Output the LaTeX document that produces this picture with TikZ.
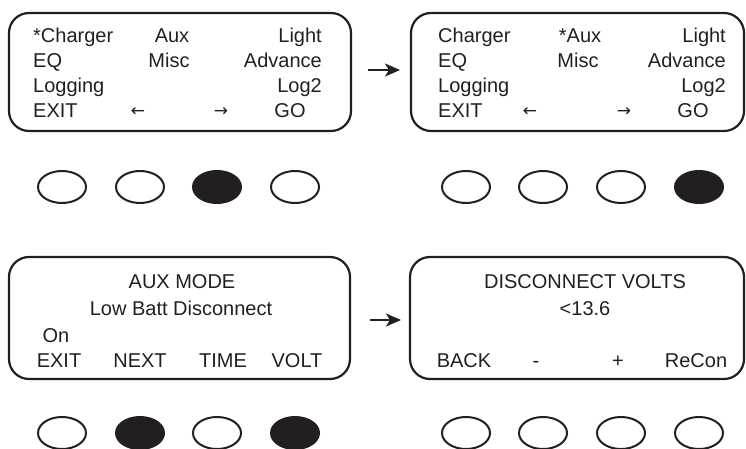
\documentclass[tikz,border=0pt]{standalone}
\usepackage{fontspec}
\setmainfont{Liberation Sans}
\newfontfamily\arrowfont{DejaVu Sans}
\usetikzlibrary{arrows.meta,calc,shapes.geometric}
\definecolor{ink}{HTML}{231F20}
\tikzset{
  screen/.style={draw=ink, line width=2.2pt, rounded corners=20pt, inner sep=0pt},
  lbl/.style={inner sep=0pt, text=ink, font=\fontsize{20}{22}\selectfont},
  arw/.style={inner sep=0pt, text=ink, font=\arrowfont\fontsize{17}{19}\selectfont},
  btn/.style={draw=ink, line width=2pt, ellipse, minimum width=48pt, minimum height=32pt, inner sep=0pt},
  pressed/.style={btn, fill=ink},
  conn/.style={draw=ink, line width=2.2pt, -{Stealth[length=15pt,width=13pt,inset=4pt]}}
}
\begin{document}
\begin{tikzpicture}[x=1pt,y=-1pt]
\useasboundingbox (0,0) rectangle (746,449);
% screens
\node[screen, minimum width=342pt, minimum height=118pt] (s1) at (180,72) {};
\node[screen, minimum width=333pt, minimum height=118pt] (s2) at (577.5,72) {};
\node[screen, minimum width=341pt, minimum height=122pt] (s3) at (179.5,318) {};
\node[screen, minimum width=334pt, minimum height=122pt] (s4) at (577,318) {};
% arrows between screens
\coordinate (a1s) at (368,70);
\coordinate (a1e) at (400,70);
\coordinate (a2s) at (370,320);
\coordinate (a2e) at (401,320);
\draw[conn] (a1s) -- (a1e);
\draw[conn] (a2s) -- (a2e);
% screen 1 text
\node[lbl, anchor=base west] (t1a) at (33,43) {*Charger};
\node[lbl, anchor=base] (t1b) at (172,43) {Aux};
\node[lbl, anchor=base east] (t1c) at (322,43) {Light};
\node[lbl, anchor=base west] (t1d) at (33,68) {EQ};
\node[lbl, anchor=base] (t1e) at (169,68) {Misc};
\node[lbl, anchor=base east] (t1f) at (322,68) {Advance};
\node[lbl, anchor=base west] (t1g) at (33,93) {Logging};
\node[lbl, anchor=base east] (t1h) at (322,93) {Log2};
\node[lbl, anchor=base west] (t1i) at (33,118) {EXIT};
\node[arw, anchor=base] (t1j) at (138,117) {←};
\node[arw, anchor=base] (t1k) at (221,117) {→};
\node[lbl, anchor=base] (t1l) at (290,118) {GO};
% screen 2 text
\node[lbl, anchor=base west] (t2a) at (438,43) {Charger};
\node[lbl, anchor=base] (t2b) at (580,43) {*Aux};
\node[lbl, anchor=base east] (t2c) at (726,43) {Light};
\node[lbl, anchor=base west] (t2d) at (438,68) {EQ};
\node[lbl, anchor=base] (t2e) at (578,68) {Misc};
\node[lbl, anchor=base east] (t2f) at (726,68) {Advance};
\node[lbl, anchor=base west] (t2g) at (438,93) {Logging};
\node[lbl, anchor=base east] (t2h) at (726,93) {Log2};
\node[lbl, anchor=base west] (t2i) at (438,118) {EXIT};
\node[arw, anchor=base] (t2j) at (530,117) {←};
\node[arw, anchor=base] (t2k) at (624,117) {→};
\node[lbl, anchor=base] (t2l) at (693,118) {GO};
% screen 3 text
\node[lbl, anchor=base] (t3a) at (182,288) {AUX MODE};
\node[lbl, anchor=base] (t3b) at (181,315) {Low Batt Disconnect};
\node[lbl, anchor=base] (t3c) at (56,342) {On};
\node[lbl, anchor=base] (t3d) at (59,367) {EXIT};
\node[lbl, anchor=base] (t3e) at (140,367) {NEXT};
\node[lbl, anchor=base] (t3f) at (223,367) {TIME};
\node[lbl, anchor=base] (t3g) at (297,367) {VOLT};
% screen 4 text
\node[lbl, anchor=base] (t4a) at (585,288) {DISCONNECT VOLTS};
\node[lbl, anchor=base] (t4b) at (585,315) {<13.6};
\node[lbl, anchor=base] (t4c) at (464,367) {BACK};
\node[lbl, anchor=base] (t4d) at (536,367) {-};
\node[lbl, anchor=base] (t4e) at (618,367) {+};
\node[lbl, anchor=base] (t4f) at (696,367) {ReCon};
% buttons row 1
\node[btn] (b11) at (62,187) {};
\node[btn] (b12) at (140,187) {};
\node[pressed] (b13) at (217,187) {};
\node[btn] (b14) at (295,187) {};
\node[btn] (b15) at (466,187) {};
\node[btn] (b16) at (543,187) {};
\node[btn] (b17) at (621,187) {};
\node[pressed] (b18) at (699,187) {};
% buttons row 2
\node[btn] (b21) at (62,433) {};
\node[pressed] (b22) at (140,433) {};
\node[btn] (b23) at (217,433) {};
\node[pressed] (b24) at (295,433) {};
\node[btn] (b25) at (466,433) {};
\node[btn] (b26) at (543,433) {};
\node[btn] (b27) at (621,433) {};
\node[btn] (b28) at (699,433) {};
\end{tikzpicture}
\end{document}
